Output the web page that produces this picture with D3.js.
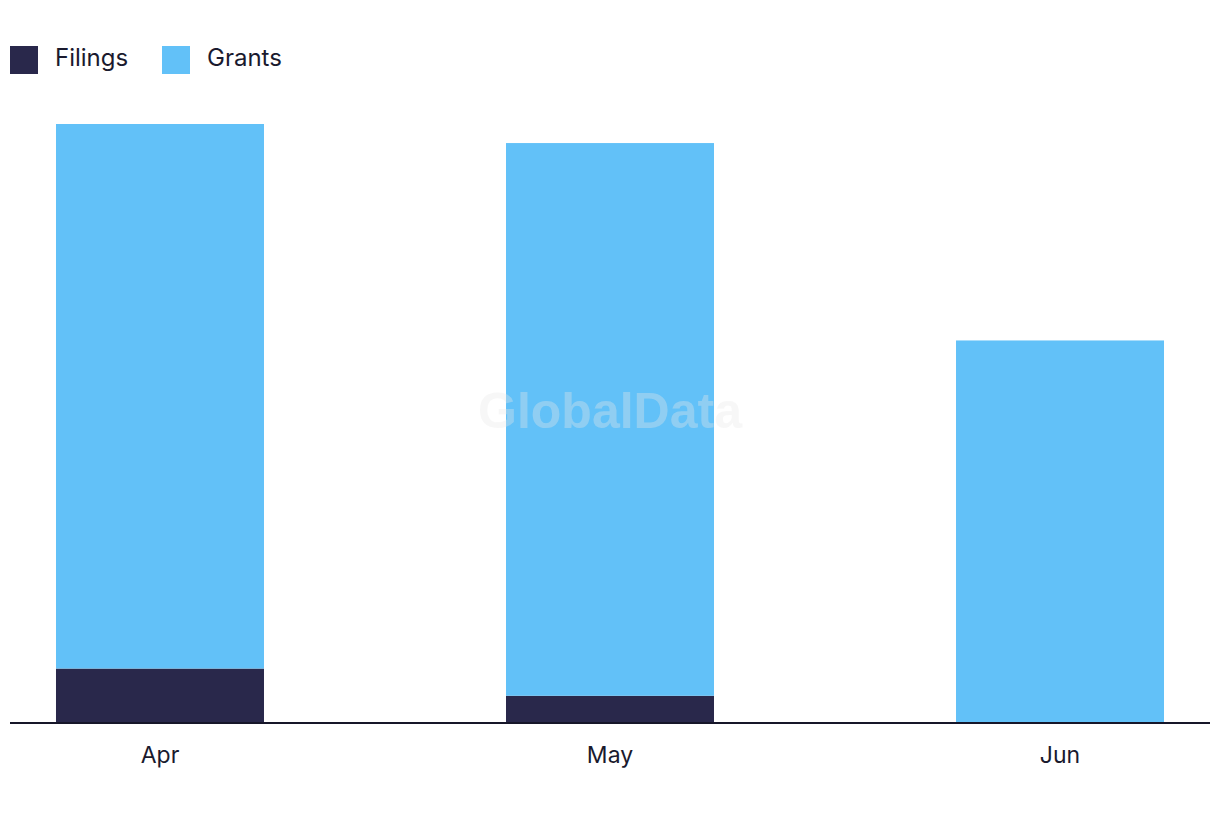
<!DOCTYPE html>
<html>
<head>
<meta charset="utf-8">
<script src="https://cdn.jsdelivr.net/npm/d3@7"></script>
<style>
  html, body { margin: 0; padding: 0; background: #ffffff; }
  svg { display: block; }
</style>
</head>
<body>
<svg id="chart" width="1220" height="822"></svg>
<script>
const categories = ["Apr", "May", "Jun"];
const seriesNames = ["Filings", "Grants"];
const filings = [2, 1, 0];
const grants = [20, 20.3, 14.05];
const colors = ["#29284b", "#62c1f8"];

const svg = d3.select("#chart");
const FONT = "Inter, 'Noto Sans', sans-serif";

const x = d3.scaleBand()
  .domain(categories)
  .range([10, 1210])
  .paddingInner(0.5378)
  .paddingOuter(0.1022);

const y = d3.scaleLinear()
  .domain([0, 22])
  .range([723, 124]);

const rows = categories.map((c, i) => ({ cat: c, Filings: filings[i], Grants: grants[i] }));
const stacked = d3.stack().keys(seriesNames)(rows);

const g = svg.append("g");
stacked.forEach((layer, li) => {
  g.selectAll(null)
    .data(layer)
    .enter()
    .append("rect")
    .attr("x", d => x(d.data.cat))
    .attr("width", x.bandwidth())
    .attr("y", d => y(d[1]))
    .attr("height", d => Math.max(0, y(d[0]) - y(d[1])))
    .attr("fill", colors[li]);
});

// watermark
svg.append("text")
  .attr("x", 610).attr("y", 428)
  .attr("text-anchor", "middle")
  .attr("font-family", "'Liberation Sans', Arial, sans-serif")
  .attr("font-weight", "bold")
  .attr("font-size", 50)
  .attr("fill", "rgba(232,232,232,0.35)")
  .text("GlobalData");

// x axis
const xAxis = d3.axisBottom(x).tickSize(0).tickPadding(24);
const ax = svg.append("g")
  .attr("transform", "translate(0,723)")
  .call(xAxis);
ax.select(".domain")
  .attr("stroke", "#161629")
  .attr("stroke-width", 2)
  .attr("d", "M10,0H1210");
ax.selectAll("text")
  .attr("font-family", FONT)
  .attr("font-size", 23)
  .attr("fill", "#1a1a2e");

// legend
const legendX = [10, 162];
const lg = svg.append("g");
seriesNames.forEach((name, i) => {
  lg.append("rect")
    .attr("x", legendX[i]).attr("y", 46)
    .attr("width", 28).attr("height", 28)
    .attr("fill", colors[i]);
  lg.append("text")
    .attr("x", legendX[i] + 45).attr("y", 66)
    .attr("font-family", FONT)
    .attr("font-size", 24)
    .attr("fill", "#1a1a2e")
    .text(name);
});
</script>
</body>
</html>
